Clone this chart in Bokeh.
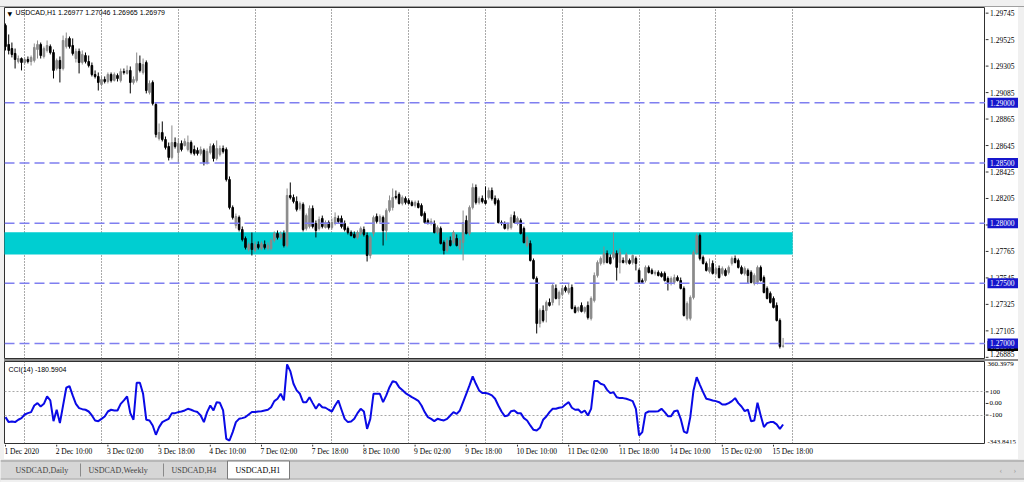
from bokeh.plotting import figure
from bokeh.models import Range1d, FixedTicker, Grid, Span, Label, ColumnDataSource, Spacer
from bokeh.layouts import column, row
from bokeh.embed import file_html
from bokeh.resources import INLINE

FONT = "Liberation Sans"

# ---------------- data ----------------
symbol = "USDCAD,H1"
last_ohlc = ["1.26977", "1.27046", "1.26965", "1.26979"]

opens = [
    1.29643, 1.29485, 1.29451, 1.29410, 1.29343, 1.29368, 1.29335, 1.29360, 1.29343, 1.29352,
    1.29443, 1.29485, 1.29385, 1.29435, 1.29468, 1.29418, 1.29285, 1.29352, 1.29285, 1.29468,
    1.29535, 1.29476, 1.29368, 1.29427, 1.29335, 1.29393, 1.29343, 1.29310, 1.29235, 1.29219,
    1.29152, 1.29194, 1.29177, 1.29235, 1.29186, 1.29227, 1.29186, 1.29260, 1.29244, 1.29269,
    1.29169, 1.29186, 1.29327, 1.29252, 1.29335, 1.29086, 1.29169, 1.28986, 1.28704, 1.28753,
    1.28695, 1.28637, 1.28546, 1.28670, 1.28587, 1.28662, 1.28645, 1.28612, 1.28670, 1.28612,
    1.28604, 1.28579, 1.28604, 1.28504, 1.28587, 1.28645, 1.28537, 1.28571, 1.28620, 1.28612,
    1.28363, 1.28130, 1.27981, 1.28047, 1.27947, 1.27873, 1.27781, 1.27831, 1.27773, 1.27823,
    1.27789, 1.27823, 1.27789, 1.27789, 1.27856, 1.27914, 1.27881, 1.27914, 1.27814, 1.28230,
    1.28213, 1.28180, 1.28122, 1.28155, 1.27956, 1.27972, 1.28122, 1.27997, 1.27956, 1.28039,
    1.27964, 1.28005, 1.27964, 1.27997, 1.28039, 1.28039, 1.27997, 1.27956, 1.27922, 1.27906,
    1.27881, 1.27914, 1.27947, 1.27897, 1.27731, 1.27914, 1.28055, 1.28014, 1.28047, 1.27939,
    1.28105, 1.28130, 1.28222, 1.28238, 1.28164, 1.28205, 1.28188, 1.28172, 1.28147, 1.28164,
    1.28147, 1.28080, 1.28022, 1.27997, 1.27997, 1.27922, 1.27956, 1.27839, 1.27773, 1.27856,
    1.27839, 1.27873, 1.27789, 1.27839, 1.28022, 1.27914, 1.28130, 1.28296, 1.28172, 1.28205,
    1.28188, 1.28213, 1.28271, 1.28205, 1.28188, 1.28005, 1.27997, 1.27956, 1.27964, 1.28063,
    1.27997, 1.28022, 1.27956, 1.27814, 1.27831, 1.27690, 1.27540, 1.27166, 1.27274, 1.27274,
    1.27341, 1.27341, 1.27457, 1.27374, 1.27407, 1.27465, 1.27424, 1.27465, 1.27299, 1.27274,
    1.27316, 1.27266, 1.27316, 1.27208, 1.27357, 1.27565, 1.27665, 1.27673, 1.27748, 1.27715,
    1.27715, 1.27748, 1.27673, 1.27690, 1.27673, 1.27690, 1.27673, 1.27706, 1.27607, 1.27523,
    1.27523, 1.27632, 1.27607, 1.27582, 1.27590, 1.27582, 1.27582, 1.27540, 1.27507, 1.27507,
    1.27548, 1.27523, 1.27457, 1.27208, 1.27208, 1.27382, 1.27756, 1.27897, 1.27715, 1.27665,
    1.27598, 1.27665, 1.27582, 1.27623, 1.27582, 1.27607, 1.27590, 1.27665, 1.27706, 1.27690,
    1.27632, 1.27582, 1.27607, 1.27590, 1.27499, 1.27507, 1.27632, 1.27548, 1.27457, 1.27416,
    1.27374, 1.27316, 1.27191, 1.26977]

highs = [
    1.29659, 1.29568, 1.29501, 1.29451, 1.29393, 1.29377, 1.29377, 1.29385, 1.29393, 1.29493,
    1.29518, 1.29501, 1.29468, 1.29518, 1.29485, 1.29443, 1.29368, 1.29385, 1.29559, 1.29584,
    1.29551, 1.29535, 1.29451, 1.29451, 1.29435, 1.29418, 1.29393, 1.29335, 1.29269, 1.29252,
    1.29219, 1.29219, 1.29252, 1.29252, 1.29252, 1.29244, 1.29285, 1.29285, 1.29310, 1.29302,
    1.29219, 1.29418, 1.29393, 1.29368, 1.29352, 1.29186, 1.29186, 1.29003, 1.28828, 1.28845,
    1.28720, 1.28670, 1.28812, 1.28712, 1.28704, 1.28687, 1.28704, 1.28728, 1.28687, 1.28645,
    1.28629, 1.28637, 1.28620, 1.28620, 1.28662, 1.28662, 1.28687, 1.28645, 1.28645, 1.28629,
    1.28388, 1.28147, 1.28080, 1.28063, 1.27972, 1.27889, 1.27839, 1.27922, 1.27848, 1.27848,
    1.27848, 1.27856, 1.27839, 1.27873, 1.27931, 1.27939, 1.27931, 1.27939, 1.28288, 1.28338,
    1.28238, 1.28222, 1.28180, 1.28172, 1.28080, 1.28147, 1.28147, 1.28022, 1.28055, 1.28063,
    1.28022, 1.28022, 1.28039, 1.28089, 1.28063, 1.28063, 1.28022, 1.27972, 1.27939, 1.27931,
    1.27939, 1.27972, 1.27972, 1.27922, 1.27897, 1.28063, 1.28080, 1.28072, 1.28063, 1.28122,
    1.28230, 1.28288, 1.28271, 1.28255, 1.28230, 1.28222, 1.28205, 1.28188, 1.28188, 1.28188,
    1.28164, 1.28097, 1.28039, 1.28039, 1.28022, 1.27981, 1.27972, 1.27856, 1.27881, 1.27889,
    1.27939, 1.27906, 1.27873, 1.28105, 1.28063, 1.28147, 1.28330, 1.28321, 1.28222, 1.28230,
    1.28305, 1.28296, 1.28296, 1.28230, 1.28205, 1.28022, 1.28014, 1.28005, 1.28072, 1.28097,
    1.28055, 1.28039, 1.27972, 1.27897, 1.27856, 1.27706, 1.27557, 1.27291, 1.27316, 1.27357,
    1.27374, 1.27499, 1.27490, 1.27440, 1.27482, 1.27482, 1.27499, 1.27490, 1.27316, 1.27307,
    1.27341, 1.27307, 1.27349, 1.27391, 1.27590, 1.27690, 1.27723, 1.27806, 1.27773, 1.27740,
    1.27922, 1.27773, 1.27789, 1.27715, 1.27756, 1.27706, 1.27740, 1.27723, 1.27623, 1.27540,
    1.27648, 1.27648, 1.27623, 1.27607, 1.27607, 1.27598, 1.27598, 1.27557, 1.27557, 1.27573,
    1.27565, 1.27548, 1.27474, 1.27349, 1.27399, 1.27773, 1.27914, 1.27914, 1.27731, 1.27681,
    1.27706, 1.27690, 1.27640, 1.27648, 1.27640, 1.27623, 1.27648, 1.27723, 1.27731, 1.27706,
    1.27648, 1.27640, 1.27623, 1.27607, 1.27582, 1.27648, 1.27648, 1.27565, 1.27474, 1.27432,
    1.27391, 1.27341, 1.27208, 1.27046]

lows = [
    1.29435, 1.29402, 1.29377, 1.29285, 1.29327, 1.29269, 1.29318, 1.29327, 1.29310, 1.29335,
    1.29368, 1.29368, 1.29368, 1.29418, 1.29402, 1.29202, 1.29269, 1.29169, 1.29269, 1.29451,
    1.29451, 1.29393, 1.29335, 1.29244, 1.29318, 1.29327, 1.29294, 1.29219, 1.29202, 1.29102,
    1.29136, 1.29161, 1.29161, 1.29169, 1.29177, 1.29177, 1.29169, 1.29235, 1.29235, 1.29078,
    1.29152, 1.29169, 1.29252, 1.29235, 1.29078, 1.29069, 1.28978, 1.28712, 1.28687, 1.28679,
    1.28612, 1.28521, 1.28529, 1.28620, 1.28504, 1.28596, 1.28637, 1.28596, 1.28571, 1.28562,
    1.28562, 1.28562, 1.28479, 1.28487, 1.28571, 1.28512, 1.28521, 1.28554, 1.28579, 1.28346,
    1.28114, 1.28030, 1.27956, 1.27931, 1.27848, 1.27781, 1.27765, 1.27731, 1.27756, 1.27781,
    1.27773, 1.27781, 1.27773, 1.27773, 1.27839, 1.27864, 1.27864, 1.27798, 1.27798, 1.28197,
    1.28164, 1.28097, 1.28105, 1.27931, 1.27939, 1.27956, 1.27956, 1.27881, 1.27939, 1.27956,
    1.27956, 1.27947, 1.27947, 1.27981, 1.27997, 1.27956, 1.27931, 1.27906, 1.27889, 1.27873,
    1.27864, 1.27897, 1.27889, 1.27681, 1.27706, 1.27889, 1.27997, 1.27997, 1.27814, 1.27856,
    1.28089, 1.28105, 1.28197, 1.28155, 1.28147, 1.28155, 1.28155, 1.28139, 1.28130, 1.28122,
    1.28055, 1.27997, 1.27989, 1.27981, 1.27914, 1.27906, 1.27823, 1.27740, 1.27756, 1.27806,
    1.27823, 1.27806, 1.27773, 1.27690, 1.27906, 1.27897, 1.28114, 1.28155, 1.28155, 1.28164,
    1.28155, 1.28197, 1.28188, 1.28147, 1.27997, 1.27981, 1.27947, 1.27939, 1.27947, 1.27997,
    1.27981, 1.27906, 1.27831, 1.27798, 1.27681, 1.27532, 1.27083, 1.27133, 1.27175, 1.27175,
    1.27307, 1.27316, 1.27366, 1.27316, 1.27391, 1.27424, 1.27407, 1.27283, 1.27249, 1.27258,
    1.27258, 1.27249, 1.27199, 1.27191, 1.27341, 1.27548, 1.27648, 1.27656, 1.27665, 1.27656,
    1.27698, 1.27523, 1.27582, 1.27665, 1.27656, 1.27656, 1.27656, 1.27607, 1.27499, 1.27499,
    1.27507, 1.27582, 1.27573, 1.27565, 1.27557, 1.27548, 1.27515, 1.27440, 1.27482, 1.27490,
    1.27515, 1.27449, 1.27224, 1.27191, 1.27191, 1.27366, 1.27740, 1.27690, 1.27656, 1.27598,
    1.27582, 1.27573, 1.27565, 1.27540, 1.27565, 1.27557, 1.27573, 1.27648, 1.27665, 1.27623,
    1.27573, 1.27565, 1.27499, 1.27499, 1.27482, 1.27490, 1.27515, 1.27416, 1.27366, 1.27332,
    1.27291, 1.27183, 1.26958, 1.26965]

closes = [
    1.29468, 1.29435, 1.29402, 1.29360, 1.29368, 1.29335, 1.29360, 1.29343, 1.29377, 1.29460,
    1.29485, 1.29393, 1.29451, 1.29476, 1.29418, 1.29269, 1.29352, 1.29285, 1.29518, 1.29535,
    1.29468, 1.29410, 1.29427, 1.29335, 1.29402, 1.29343, 1.29310, 1.29235, 1.29219, 1.29169,
    1.29194, 1.29177, 1.29235, 1.29186, 1.29235, 1.29202, 1.29260, 1.29252, 1.29269, 1.29169,
    1.29194, 1.29327, 1.29269, 1.29318, 1.29102, 1.29161, 1.28994, 1.28737, 1.28753, 1.28695,
    1.28629, 1.28546, 1.28670, 1.28637, 1.28662, 1.28612, 1.28679, 1.28670, 1.28587, 1.28579,
    1.28579, 1.28612, 1.28504, 1.28596, 1.28637, 1.28537, 1.28620, 1.28620, 1.28596, 1.28363,
    1.28130, 1.28047, 1.28055, 1.27947, 1.27864, 1.27798, 1.27823, 1.27781, 1.27823, 1.27798,
    1.27831, 1.27798, 1.27814, 1.27856, 1.27914, 1.27881, 1.27906, 1.27814, 1.28230, 1.28213,
    1.28180, 1.28114, 1.28164, 1.27947, 1.28063, 1.28122, 1.27972, 1.27939, 1.28030, 1.27972,
    1.28005, 1.27964, 1.28005, 1.28047, 1.28014, 1.27972, 1.27947, 1.27922, 1.27897, 1.27881,
    1.27922, 1.27956, 1.27906, 1.27731, 1.27881, 1.28047, 1.28014, 1.28055, 1.27939, 1.28105,
    1.28188, 1.28213, 1.28213, 1.28164, 1.28213, 1.28172, 1.28164, 1.28147, 1.28172, 1.28130,
    1.28063, 1.28005, 1.27997, 1.28014, 1.27922, 1.27964, 1.27831, 1.27773, 1.27856, 1.27814,
    1.27922, 1.27814, 1.27856, 1.28005, 1.27914, 1.28130, 1.28296, 1.28172, 1.28205, 1.28180,
    1.28164, 1.28271, 1.28205, 1.28164, 1.28005, 1.27997, 1.27956, 1.27989, 1.28047, 1.28005,
    1.28039, 1.27914, 1.27839, 1.27881, 1.27690, 1.27540, 1.27166, 1.27274, 1.27191, 1.27341,
    1.27316, 1.27482, 1.27374, 1.27424, 1.27457, 1.27440, 1.27457, 1.27291, 1.27258, 1.27299,
    1.27266, 1.27299, 1.27216, 1.27374, 1.27565, 1.27673, 1.27706, 1.27748, 1.27673, 1.27665,
    1.27756, 1.27632, 1.27756, 1.27673, 1.27740, 1.27665, 1.27731, 1.27665, 1.27507, 1.27507,
    1.27632, 1.27590, 1.27582, 1.27590, 1.27565, 1.27557, 1.27523, 1.27507, 1.27540, 1.27548,
    1.27523, 1.27457, 1.27233, 1.27332, 1.27382, 1.27756, 1.27897, 1.27706, 1.27665, 1.27607,
    1.27632, 1.27582, 1.27623, 1.27548, 1.27623, 1.27565, 1.27632, 1.27706, 1.27673, 1.27632,
    1.27582, 1.27623, 1.27565, 1.27507, 1.27565, 1.27632, 1.27523, 1.27424, 1.27374, 1.27341,
    1.27299, 1.27191, 1.26975, 1.26979]

cci = [
    -117, -160, -155, -160, -140, -126, -95, -83, -74, -17,
    3, -26, -3, 60, 26, -152, -54, -169, -17, 135,
    149, 69, -3, -40, -49, -54, -69, -103, -146, -152,
    -132, -112, -69, -54, -60, -60, -3, 26, 60, -83,
    -140, 178, 178, 83, -140, -146, -189, -269, -203, -160,
    -146, -132, -83, -83, -74, -69, -60, -46, -54, -66,
    -74, -103, -160, -74, -17, -60, 11, 6, -60, -304,
    -318, -246, -160, -132, -126, -117, -95, -74, -74, -69,
    -66, -60, -54, -32, 20, 40, 83, 26, 335, 278,
    169, 112, 83, 11, 11, 54, 3, -46, -3, -32,
    -37, -54, -69, -17, 26, -54, -132, -160, -155, -132,
    -83, -46, -69, -218, -132, 83, 83, 83, 11, 69,
    140, 192, 183, 140, 115, 89, 72, 54, 40, 23,
    -17, -74, -117, -132, -152, -132, -140, -146, -132, -103,
    -74, -89, -60, 11, 83, 155, 232, 169, 112, 89,
    89, 83, 69, 40, -17, -69, -109, -103, -66, -60,
    -83, -83, -126, -146, -189, -226, -232, -209, -140, -112,
    -74, -46, -46, -37, -32, -9, 11, -37, -54, -52,
    -80, -60, -103, -46, 192, 192, 169, 160, 117, 89,
    97, 54, 46, 46, 40, 31, 20, -46, -275, -246,
    -83, -69, -69, -69, -66, -46, -74, -109, -109, -66,
    -60, -132, -241, -255, -117, 112, 226, 160, 97, 40,
    34, 26, 20, 11, -9, -9, 3, 20, 46, 3,
    -26, -66, -52, -152, -146, 6, -103, -203, -169, -160,
    -160, -180, -218, -180.5904]
cci_name = "CCI(14)"
cci_max, cci_min = 360.3979, -343.8415
cci_ticks = [100, 0, -100]
cci_tick_labels = ["100", "0.00", "-100"]

price_ticks = [1.29745, 1.29525, 1.29305, 1.29085, 1.28865, 1.28645, 1.28425,
               1.28205, 1.27985, 1.27765, 1.27545, 1.27325, 1.27105, 1.26885]
levels = [1.29000, 1.28500, 1.28000, 1.27500, 1.27000]
zone_low, zone_high = 1.27740, 1.27925
zone_start_bar, zone_end_bar = -2, 246

day_start_bars = [6, 30, 54, 78, 102, 126, 150, 174, 198, 222, 246]
time_label_bars = [0, 16, 32, 48, 64, 80, 96, 112, 128, 144, 160, 176, 192, 208, 224, 240]
time_labels = ["1 Dec 2020", "2 Dec 10:00", "3 Dec 02:00", "3 Dec 18:00", "4 Dec 10:00",
               "7 Dec 02:00", "7 Dec 18:00", "8 Dec 10:00", "9 Dec 02:00", "9 Dec 18:00",
               "10 Dec 10:00", "11 Dec 02:00", "11 Dec 18:00", "14 Dec 10:00",
               "15 Dec 02:00", "15 Dec 18:00"]
tab_names = ["USDCAD,Daily", "USDCAD,Weekly", "USDCAD,H4", "USDCAD,H1"]
active_tab = "USDCAD,H1"

# ---------------- styles ----------------
BULL = "#8a8a8a"
BEAR = "#000000"
ZONE = "#00CED1"
LEVEL = "#7F7FF0"
LEVEL_BG = "#1616CC"
CCI_COLOR = "#0A0AE6"
GRID = "#555555"
CHROME = "#F0F0F0"
FRAME = "#303030"

n = len(closes)
idx = list(range(n))
x_range = Range1d(-0.31, 306.25)
price_range = Range1d(1.26875, 1.29792)
side_price_range = Range1d(1.26867, 1.29792)   # same scale, one extra pixel row
cci_range = Range1d(cci_min, cci_max)


def base_fig(**kw):
    f = figure(toolbar_location=None, output_backend="svg",
               background_fill_color="white", border_fill_color="white", **kw)
    for g in f.grid:
        g.visible = False
    return f


def candle_source(sel):
    ids = [i for i in idx if sel(i)]
    return ColumnDataSource(dict(
        x=ids,
        top=[max(opens[i], closes[i]) for i in ids],
        bottom=[min(opens[i], closes[i]) for i in ids],
        high=[highs[i] for i in ids],
        low=[lows[i] for i in ids]))


# ---------------- price panel ----------------
p = base_fig(x_range=x_range, y_range=price_range, frame_width=981, frame_height=351,
             min_border_left=0, min_border_right=0, min_border_top=0, min_border_bottom=1,
             x_axis_location=None, y_axis_location=None)
p.outline_line_color = FRAME
p.add_layout(Grid(dimension=0, ticker=FixedTicker(ticks=day_start_bars),
                  grid_line_color=GRID, grid_line_dash="1 2", grid_line_width=1))
p.quad(left=[zone_start_bar], right=[zone_end_bar], bottom=[zone_low], top=[zone_high],
       fill_color=ZONE, line_color=None)
for sel, col in ((lambda i: closes[i] >= opens[i], BULL), (lambda i: closes[i] < opens[i], BEAR)):
    src = candle_source(sel)
    p.segment(x0="x", y0="low", x1="x", y1="high", source=src, line_color=col, line_width=1)
    p.vbar(x="x", top="top", bottom="bottom", width=0.5, source=src,
           fill_color=col, line_color=col, line_width=1)
for lv in levels:
    p.add_layout(Span(location=lv, dimension="width", line_color=LEVEL,
                      line_dash="10 5", line_width=1.5))
p.add_layout(Label(x=x_range.start, y=price_range.end, x_offset=3, y_offset=-2, text="▼",
                   text_baseline="top", text_font="DejaVu Sans", text_font_size="6px",
                   text_color="black"))
p.add_layout(Label(x=x_range.start, y=price_range.end, x_offset=11, y_offset=-1,
                   text=f"{symbol}  " + " ".join(last_ohlc),
                   text_baseline="top", text_font=FONT, text_font_size="7px",
                   text_color="black"))

# price scale column (ticks, labels, level and last-price tags)
ps = base_fig(x_range=Range1d(0, 33), y_range=side_price_range, frame_width=33,
              frame_height=352, min_border=0, x_axis_location=None, y_axis_location=None)
ps.outline_line_color = None
ps.segment(x0=[0] * len(price_ticks), y0=price_ticks, x1=[3] * len(price_ticks),
           y1=price_ticks, line_color=FRAME, line_width=1)
ps.text(x=[4.5] * len(price_ticks), y=price_ticks, text=[f"{v:.5f}" for v in price_ticks],
        text_baseline=["middle"] * (len(price_ticks) - 1) + ["bottom"],
        text_font=FONT, text_font_size="7.5px", text_color="black")
ps.rect(x=[17.5], y=[closes[-1]], width=[31], height=[10], height_units="screen",
        fill_color="black", line_color=None)
ps.text(x=[4.5], y=[closes[-1]], text=[f"{closes[-1]:.5f}"], text_baseline="middle",
        text_font=FONT, text_font_size="7.5px", text_color="white")
ps.rect(x=[17.5] * len(levels), y=levels, width=[31] * len(levels),
        height=[10] * len(levels), height_units="screen", fill_color=LEVEL_BG, line_color=None)
ps.text(x=[4.5] * len(levels), y=levels, text=[f"{v:.5f}" for v in levels],
        text_baseline="middle", text_font=FONT, text_font_size="7.5px", text_color="white")

# ---------------- CCI panel ----------------
q = base_fig(x_range=x_range, y_range=cci_range, frame_width=981, frame_height=82,
             min_border_left=0, min_border_right=0, min_border_top=0, min_border_bottom=1,
             x_axis_location=None, y_axis_location=None)
q.outline_line_color = FRAME
q.add_layout(Grid(dimension=0, ticker=FixedTicker(ticks=day_start_bars),
                  grid_line_color=GRID, grid_line_dash="1 2", grid_line_width=1))
q.add_layout(Grid(dimension=1, ticker=FixedTicker(ticks=[100, -100]),
                  grid_line_color="#A8A8A8", grid_line_dash="2 2", grid_line_width=1))
q.line(idx, cci, line_color=CCI_COLOR, line_width=2)
q.add_layout(Label(x=x_range.start, y=cci_max, x_offset=4, y_offset=-4,
                   text=f"{cci_name} {cci[-1]:.4f}", text_baseline="top",
                   text_font=FONT, text_font_size="7px", text_color="black"))

qs = base_fig(x_range=Range1d(0, 33), y_range=cci_range, frame_width=33, frame_height=82,
              min_border_left=0, min_border_right=0, min_border_top=0, min_border_bottom=1,
              x_axis_location=None, y_axis_location=None)
qs.outline_line_color = None
qs.segment(x0=[0] * 3, y0=cci_ticks, x1=[3] * 3, y1=cci_ticks, line_color=FRAME)
qs.text(x=[4] * 3, y=cci_ticks, text=cci_tick_labels, text_baseline="middle",
        text_font=FONT, text_font_size="7px", text_color="black")
qs.text(x=[2, 2], y=[cci_max, cci_min], text=[f"{cci_max:.4f}", f"{cci_min:.4f}"],
        text_baseline=["top", "bottom"], text_font=FONT, text_font_size="7px",
        text_color="black")

# ---------------- time scale strip (labels start at their bar) ----------------
xs = base_fig(x_range=x_range, y_range=Range1d(15, 0), frame_width=981, frame_height=15,
              min_border=0, x_axis_location=None, y_axis_location=None)
xs.outline_line_color = None
xs.segment(x0=time_label_bars, y0=[0] * len(time_label_bars), x1=time_label_bars,
           y1=[2] * len(time_label_bars), line_color=FRAME, line_width=1)
xs.text(x=time_label_bars, y=[6.5] * len(time_label_bars), text=time_labels,
        x_offset=-1, text_align="left", text_baseline="middle", text_font=FONT,
        text_font_size="7.5px", text_color="black")
xs_pad = Spacer(width=33, height=15, styles={"background-color": "white"})

# ---------------- tabs strip ----------------
t = figure(x_range=Range1d(0, 1024), y_range=Range1d(482, 459), frame_width=1024,
           frame_height=23, min_border=0, x_axis_location=None, y_axis_location=None,
           toolbar_location=None, output_backend="svg",
           background_fill_color="#D6D6D6", border_fill_color="#D6D6D6")
t.outline_line_color = None
for g in t.grid:
    g.visible = False
t.quad(left=[0], right=[1024], top=[478], bottom=[482], fill_color=CHROME,
       line_color=None)
t.segment(x0=[0, 0], y0=[460.5, 478.5], x1=[1024, 1024], y1=[460.5, 478.5],
          line_color="#9A9A9A", line_width=1)
tab_x = [15, 88, 171, 235]
active_i = tab_names.index(active_tab)
t.quad(left=[tab_x[active_i] - 8], right=[tab_x[active_i] + 54], top=[460.5],
       bottom=[478.5], fill_color="white", line_color="#7A7A7A")
t.segment(x0=[80, 163], y0=[463, 463], x1=[80, 163], y1=[476, 476],
          line_color="#8A8A8A", line_width=1)
t.text(x=tab_x, y=[469.5] * 4, text=tab_names, text_baseline="middle", text_font=FONT,
       text_font_size="8px",
       text_color=["#444444" if nm != active_tab else "black" for nm in tab_names])
t.text(x=[999, 1013], y=[469.5, 469.5], text=["‹", "›"], text_baseline="middle",
       text_font=FONT, text_font_size="8px", text_color="#9A9A9A")

top_bar = Spacer(width=1024, height=7, styles={"background-color": CHROME,
                                                "border-bottom": "1px solid #A0A0A0",
                                                "box-sizing": "border-box"})
left_bar = Spacer(width=4, height=452, styles={"background-color": CHROME})
right_bar = Spacer(width=6, height=452, styles={"background-color": CHROME})
sep = Spacer(width=1014, height=2, styles={"background-color": "#8C8C8C"})

middle = column(row(p, ps, spacing=0), sep, row(q, qs, spacing=0),
                row(xs, xs_pad, spacing=0), spacing=0)
layout = column(top_bar, row(left_bar, middle, right_bar, spacing=0), t, spacing=0)
open("out.html", "w").write(file_html(layout, INLINE))
